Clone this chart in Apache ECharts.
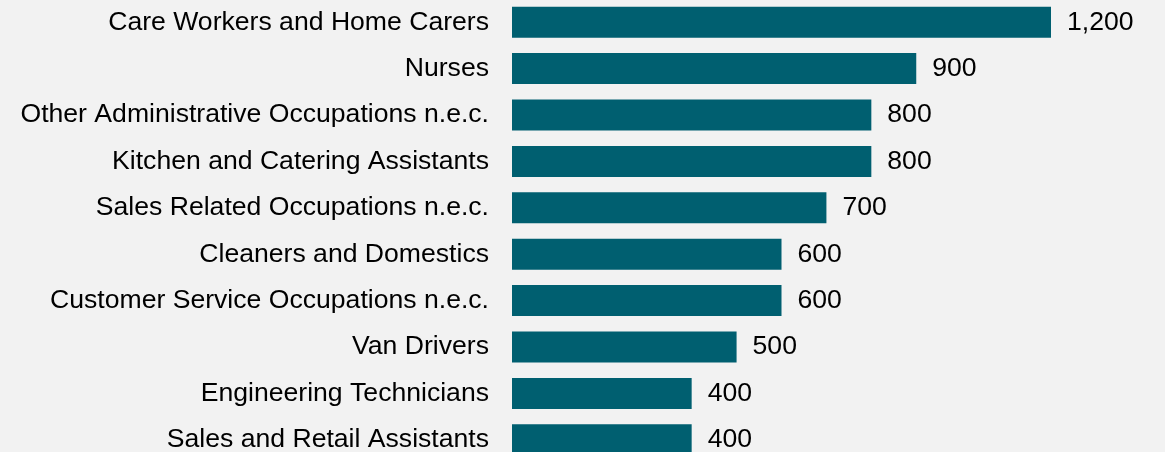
<!DOCTYPE html>
<html>
<head>
<meta charset="utf-8">
<script src="https://cdn.jsdelivr.net/npm/echarts@6/dist/echarts.min.js"></script>
<style>
  html, body { margin: 0; padding: 0; background: #f2f2f2; }
  #chart { width: 1165px; height: 452px; }
</style>
</head>
<body>
<div id="chart"></div>
<script>
// top to bottom as shown
const occupations = [
  'Care Workers and Home Carers',
  'Nurses',
  'Other Administrative Occupations n.e.c.',
  'Kitchen and Catering Assistants',
  'Sales Related Occupations n.e.c.',
  'Cleaners and Domestics',
  'Customer Service Occupations n.e.c.',
  'Van Drivers',
  'Engineering Technicians',
  'Sales and Retail Assistants'
]
const vacancies = [1200, 900, 800, 800, 700, 600, 600, 500, 400, 400]

const chart = echarts.init(document.getElementById('chart'))

chart.setOption({
  backgroundColor: '#f2f2f2',
  animation: false,
  textStyle: { fontFamily: 'Liberation Sans, Arial, sans-serif' },
  grid: {
    left: 512,
    right: 114,
    top: -1,
    height: 464,
    containLabel: false,
    outerBoundsMode: 'none'
  },
  xAxis: {
    type: 'value',
    min: 0,
    max: 1200,
    show: false
  },
  yAxis: {
    type: 'category',
    inverse: true,
    data: occupations,
    axisLine: { show: false },
    axisTick: { show: false },
    splitLine: { show: false },
    axisLabel: {
      margin: 23,
      fontSize: 26.6,
      color: '#000'
    }
  },
  series: [
    {
      type: 'bar',
      data: vacancies,
      barWidth: 31,
      itemStyle: { color: '#005f70' },
      label: {
        show: true,
        position: 'right',
        distance: 16,
        fontSize: 26.6,
        color: '#000',
        formatter: (p) => p.value.toLocaleString('en-GB')
      }
    }
  ]
})
</script>
</body>
</html>
